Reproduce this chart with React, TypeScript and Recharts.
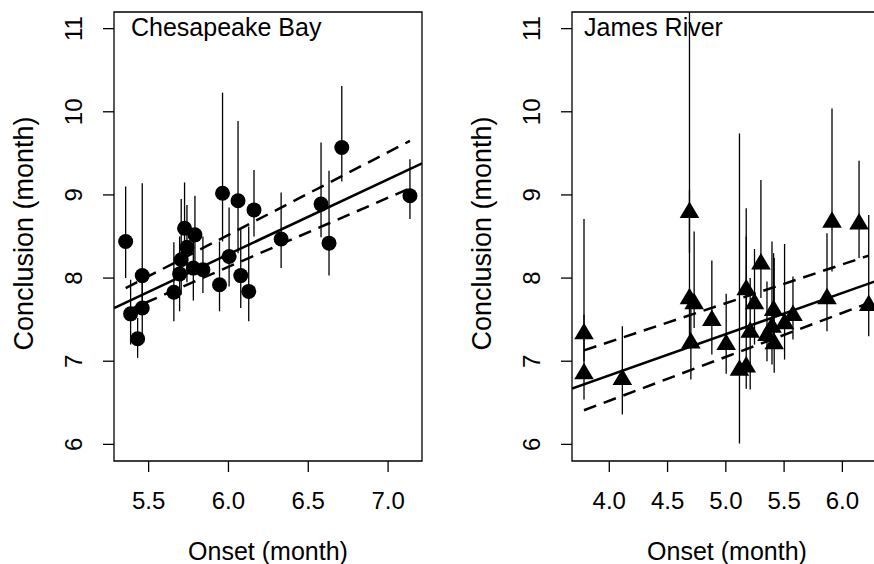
import React from 'react';
import { ComposedChart, Scatter, XAxis, YAxis, ErrorBar, ReferenceArea } from 'recharts';

const FONT = '"Liberation Sans", Arial, Helvetica, sans-serif';

// ---- Chesapeake Bay ----
const cbOnset = [5.356, 5.46, 5.387, 5.46, 5.431, 5.658, 5.694, 5.704, 5.74, 5.725, 5.79, 5.78, 5.84, 5.944, 5.963, 6.004, 6.06, 6.077, 6.16, 6.127, 6.33, 6.58, 6.63, 6.71, 7.137];
const cbConclusion = [8.44, 8.03, 7.57, 7.64, 7.27, 7.83, 8.05, 8.22, 8.37, 8.6, 8.52, 8.12, 8.1, 7.92, 9.02, 8.26, 8.93, 8.03, 8.82, 7.84, 8.47, 8.89, 8.42, 9.57, 8.99];
const cbLower = [8.0, 7.6, 7.2, 7.3, 7.04, 7.48, 7.6, 7.8, 7.95, 8.2, 8.1, 7.73, 7.82, 7.6, 8.44, 7.9, 8.3, 7.64, 8.5, 7.48, 8.12, 8.49, 8.03, 9.16, 8.71];
const cbUpper = [9.1, 9.14, 7.98, 8.0, 7.52, 8.43, 8.5, 8.95, 8.88, 9.15, 8.99, 8.5, 8.5, 8.44, 10.23, 8.85, 9.89, 8.6, 9.3, 8.62, 9.03, 9.63, 9.29, 10.31, 9.43];
const cbFitX = [5.283, 7.2125];
const cbFitY = [7.64, 9.38];
const cbBandX = [5.356, 7.137];
const cbBandUpperY = [7.88, 9.65];
const cbBandLowerY = [7.6, 9.08];

// ---- James River ----
const jrOnset = [3.783, 3.783, 4.112, 4.688, 4.688, 4.728, 4.7, 4.88, 5.003, 5.117, 5.175, 5.175, 5.246, 5.209, 5.301, 5.41, 5.396, 5.353, 5.415, 5.504, 5.576, 5.868, 5.911, 6.143, 6.226];
const jrConclusion = [7.36, 6.88, 6.81, 8.82, 7.78, 7.72, 7.25, 7.52, 7.23, 6.92, 6.96, 7.89, 7.72, 7.38, 8.2, 7.64, 7.44, 7.34, 7.24, 7.48, 7.58, 7.78, 8.7, 8.68, 7.7];
const jrLower = [7.0, 6.54, 6.36, 8.3, 7.3, 7.4, 6.78, 7.08, 6.85, 6.01, 6.67, 7.4, 7.2, 6.66, 7.76, 7.2, 6.96, 7.0, 6.86, 7.02, 7.26, 7.36, 8.08, 8.24, 7.3];
const jrUpper = [8.71, 7.56, 7.42, 11.2, 9.06, 8.56, 7.7, 8.21, 7.81, 9.74, 8.84, 8.5, 8.35, 8.0, 9.18, 8.3, 8.44, 7.96, 8.24, 8.41, 8.02, 8.54, 10.04, 9.41, 8.76];
const jrFitX = [3.68, 6.34];
const jrFitY = [6.67, 7.99];
const jrBandX = [3.783, 6.226];
const jrBandUpperY = [7.13, 8.27];
const jrBandLowerY = [6.41, 7.7];

const yTicks = [6, 7, 8, 9, 10, 11];
const cbXTicks = [5.5, 6.0, 6.5, 7.0];
const jrXTicks = [4.0, 4.5, 5.0, 5.5, 6.0];

const toPoints = (xs: number[], ys: number[], lo: number[], hi: number[]) =>
  xs.map((x, i) => ({ x, y: ys[i], err: [ys[i] - lo[i], hi[i] - ys[i]] }));
const toLine = (xs: number[], ys: number[]) => xs.map((x, i) => ({ x, y: ys[i] }));

const XTick = (props: any) => (
  <text x={props.x} y={props.y + 37} textAnchor="middle" fontSize={24} fontFamily={FONT} fill="#000">
    {Number(props.payload.value).toFixed(1)}
  </text>
);

const YTick = (props: any) => {
  const bx = props.x - 21;
  return (
    <text x={bx} y={props.y} textAnchor="middle" fontSize={24} fontFamily={FONT} fill="#000"
      transform={`rotate(-90 ${bx} ${props.y})`}>
      {props.payload.value}
    </text>
  );
};

const Circle = (props: any) => <circle cx={props.cx} cy={props.cy} r={7.5} fill="#000" />;
const Triangle = (props: any) => {
  const { cx, cy } = props;
  return <path d={`M${cx},${cy - 8.5} L${cx + 9.8},${cy + 8} L${cx - 9.8},${cy + 8} Z`} fill="#000" />;
};
const NoShape = () => <g />;

type PanelProps = {
  left: number;
  width: number;
  marginRight: number;
  title: string;
  titleDx: number;
  points: any[];
  fit: any[];
  bandUpper: any[];
  bandLower: any[];
  xDomain: [number, number];
  xTicks: number[];
  marker: any;
};

function Panel(p: PanelProps) {
  return (
    <div style={{ position: 'absolute', left: p.left, top: 0 }}>
      <ComposedChart width={p.width} height={564} margin={{ top: 12, right: p.marginRight, bottom: 0, left: 0 }}>
        <XAxis
          type="number"
          dataKey="x"
          domain={p.xDomain}
          ticks={p.xTicks}
          allowDataOverflow
          interval={0}
          axisLine={false}
          tickLine={{ stroke: '#000', strokeWidth: 1.3 }}
          tickSize={11}
          tickMargin={0}
          height={103}
          tick={XTick}
          label={{
            content: (lp: any) => {
              const vb = lp.viewBox;
              return (
                <text x={vb.x + vb.width / 2} y={vb.y + 99} textAnchor="middle" fontSize={25} fontFamily={FONT} fill="#000">
                  Onset (month)
                </text>
              );
            },
          }}
        />
        <YAxis
          type="number"
          dataKey="y"
          domain={[5.8, 11.2]}
          ticks={yTicks}
          allowDataOverflow
          interval={0}
          width={114}
          axisLine={false}
          tickLine={{ stroke: '#000', strokeWidth: 1.3 }}
          tickSize={11}
          tickMargin={0}
          tick={YTick}
          label={{
            content: (lp: any) => {
              const vb = lp.viewBox;
              const bx = vb.x + 33;
              const cy = vb.y + vb.height / 2 - 3;
              return (
                <text x={bx} y={cy} textAnchor="middle" fontSize={27} fontFamily={FONT} fill="#000"
                  transform={`rotate(-90 ${bx} ${cy})`}>
                  Conclusion (month)
                </text>
              );
            },
          }}
        />
        <ReferenceArea
          x1={p.xDomain[0]}
          x2={p.xDomain[1]}
          y1={5.8}
          y2={11.2}
          fill="none"
          fillOpacity={0}
          stroke="#000"
          strokeWidth={1.3}
          label={{
            content: (lp: any) => {
              const vb = lp.viewBox;
              return (
                <text x={vb.x + p.titleDx} y={vb.y + 24} fontSize={25} fontFamily={FONT} fill="#000">
                  {p.title}
                </text>
              );
            },
          }}
        />
        <Scatter data={p.points} shape={p.marker} isAnimationActive={false} legendType="none">
          <ErrorBar dataKey="err" direction="y" width={0} stroke="#000" strokeWidth={1.3} />
        </Scatter>
        <Scatter data={p.fit} shape={NoShape} line={{ stroke: '#000', strokeWidth: 2.5 }} lineType="joint" isAnimationActive={false} legendType="none" />
        <Scatter data={p.bandUpper} shape={NoShape} line={{ stroke: '#000', strokeWidth: 2.5, strokeDasharray: '13 8' }} lineType="joint" isAnimationActive={false} legendType="none" />
        <Scatter data={p.bandLower} shape={NoShape} line={{ stroke: '#000', strokeWidth: 2.5, strokeDasharray: '13 8' }} lineType="joint" isAnimationActive={false} legendType="none" />
      </ComposedChart>
    </div>
  );
}

export default function App() {
  return (
    <div style={{ position: 'fixed', left: 0, top: 0, width: 874, height: 564, overflow: 'hidden', background: '#fff' }}>
      <Panel
        left={0}
        width={440}
        marginRight={18}
        title="Chesapeake Bay"
        titleDx={17}
        points={toPoints(cbOnset, cbConclusion, cbLower, cbUpper)}
        fit={toLine(cbFitX, cbFitY)}
        bandUpper={toLine(cbBandX, cbBandUpperY)}
        bandLower={toLine(cbBandX, cbBandLowerY)}
        xDomain={[5.283, 7.2125]}
        xTicks={cbXTicks}
        marker={Circle}
      />
      <Panel
        left={458}
        width={434}
        marginRight={10}
        title="James River"
        titleDx={12}
        points={toPoints(jrOnset, jrConclusion, jrLower, jrUpper)}
        fit={toLine(jrFitX, jrFitY)}
        bandUpper={toLine(jrBandX, jrBandUpperY)}
        bandLower={toLine(jrBandX, jrBandLowerY)}
        xDomain={[3.68, 6.34]}
        xTicks={jrXTicks}
        marker={Triangle}
      />
    </div>
  );
}
